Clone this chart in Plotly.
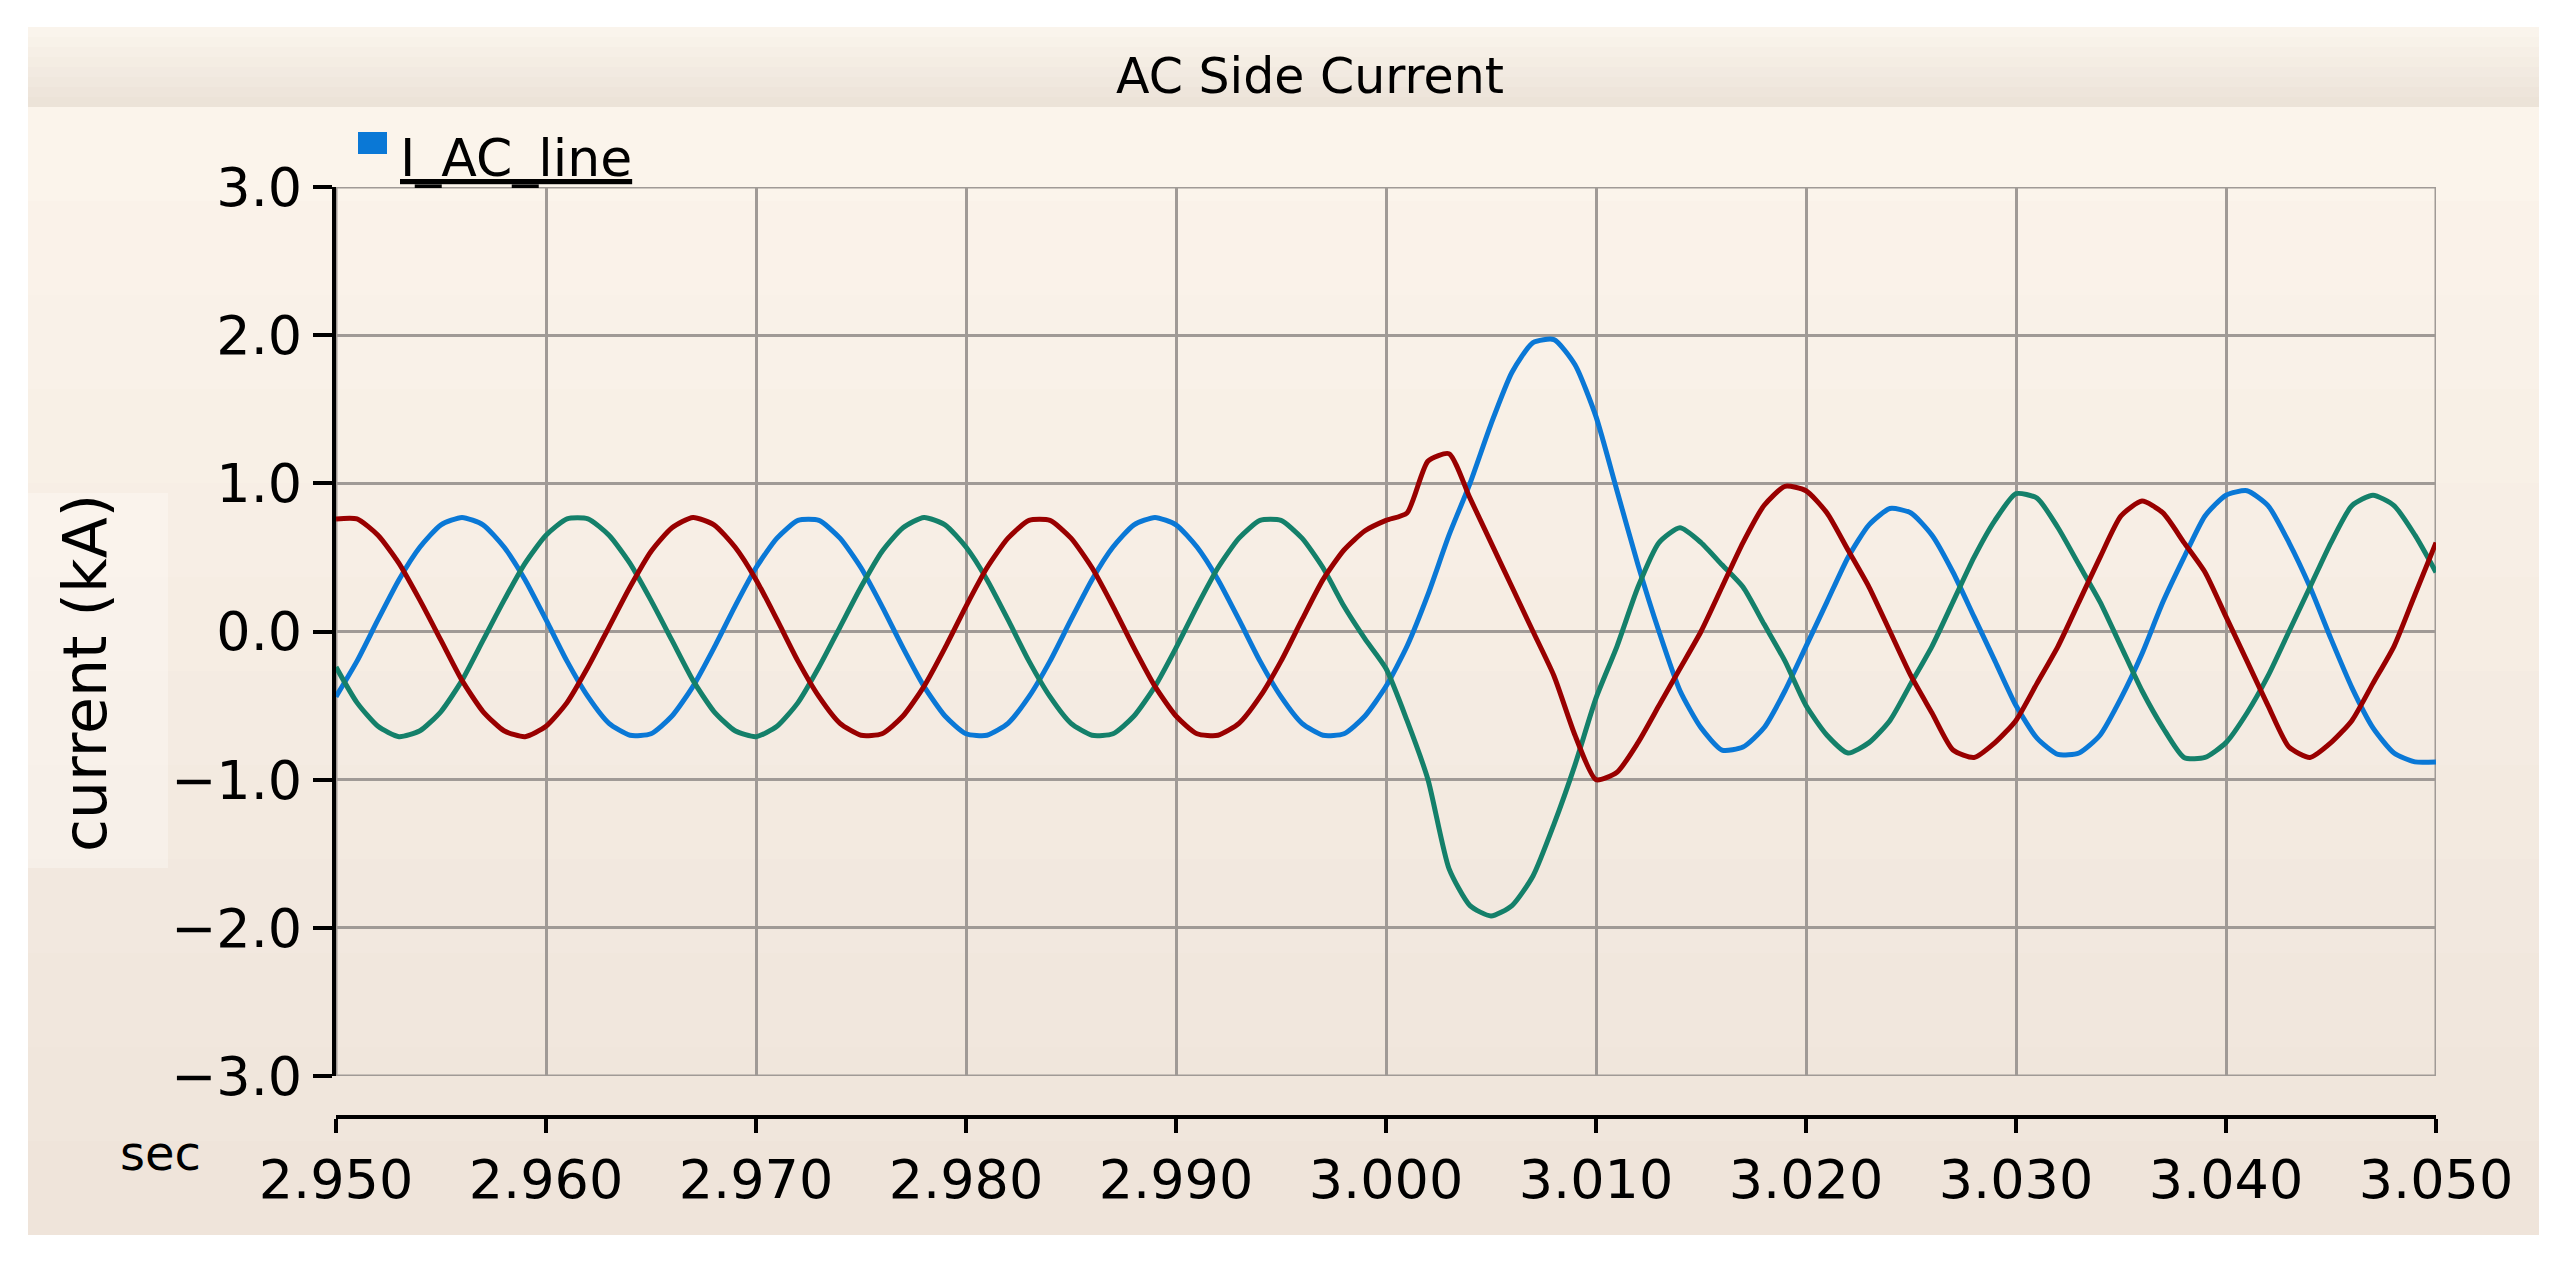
import numpy as np
import plotly.graph_objects as go

time_s = np.round(np.arange(101) * 0.001 + 2.950, 3)

phase_blue = [-.44,-.20,.08,.35,.57,.72,.77,.72,.57,.35,.08,-.20,-.44,-.62,-.70,-.69,-.57,-.37,-.11,.17,
              .43,.63,.75,.75,.63,.43,.17,-.11,-.37,-.57,-.69,-.70,-.62,-.44,-.20,.08,.35,.57,.72,.77,
              .72,.57,.35,.08,-.20,-.44,-.62,-.70,-.69,-.57,-.37,
              -.1,.25,.65,1.0,1.4,1.75,1.95,1.97,1.8,1.45,.95,.45,.0,-.4,-.65,-.8,-.78,-.65,-.4,-.1,
              .2,.5,.72,.83,.8,.65,.4,.1,-.2,-.5,-.72,-.83,-.82,-.7,-.45,-.15,.2,.5,.78,.92,
              .95,.85,.6,.3,-.05,-.38,-.65,-.82,-.88,-.88]
phase_green = [-.24,-.48,-.64,-.71,-.67,-.54,-.33,-.06,.21,.46,.65,.76,.76,.65,.46,.21,-.06,-.33,-.54,-.67,
               -.71,-.64,-.48,-.24,.03,.30,.54,.70,.77,.72,.57,.35,.08,-.20,-.44,-.62,-.70,-.69,-.57,-.37,
               -.11,.17,.43,.63,.75,.75,.63,.43,.17,-.05,-.25,
               -.6,-1.0,-1.6,-1.85,-1.92,-1.85,-1.65,-1.3,-.9,-.45,-.1,.3,.6,.7,.6,.45,.3,.05,-.2,-.5,
               -.7,-.82,-.75,-.6,-.35,-.1,.2,.5,.75,.93,.9,.7,.45,.2,-.1,-.4,-.65,-.85,-.85,-.75,
               -.55,-.3,0,.3,.6,.85,.92,.85,.65,.4]
phase_red = [.76,.76,.65,.46,.21,-.06,-.33,-.54,-.67,-.71,-.64,-.48,-.24,.03,.30,.54,.70,.77,.72,.57,
             .35,.08,-.20,-.44,-.62,-.70,-.69,-.57,-.37,-.11,.17,.43,.63,.75,.75,.63,.43,.17,-.11,-.37,
             -.57,-.69,-.70,-.62,-.44,-.20,.08,.35,.55,.68,.75,
             .8,1.15,1.2,.9,.6,.3,0,-.3,-.7,-1.0,-.95,-.75,-.5,-.25,0,.3,.6,.85,.98,.95,
             .8,.55,.3,0,-.3,-.55,-.8,-.85,-.75,-.6,-.35,-.1,.2,.5,.78,.88,.8,.6,.4,.1,
             -.2,-.5,-.78,-.85,-.75,-.6,-.35,-.1,.25,.6]

x_ticks = [2.950, 2.960, 2.970, 2.980, 2.990, 3.000, 3.010, 3.020, 3.030, 3.040, 3.050]
y_ticks = [-3.0, -2.0, -1.0, 0.0, 1.0, 2.0, 3.0]

W, H = 2561, 1263
L, R, T, B = 328, 133, 179, 154
PW, PH = W - L - R, H - T - B
def px(x): return (x - L) / PW
def py(y): return (H - B - y) / PH

FONT = "DejaVu Sans"
fig = go.Figure()
for vals, col in [(phase_blue, "#0a78d6"), (phase_green, "#14806a"), (phase_red, "#990000")]:
    fig.add_trace(go.Scatter(x=time_s, y=vals, mode="lines", line=dict(color=col, width=5, shape="spline", smoothing=0.6),
                             showlegend=False, hoverinfo="skip"))
fig.add_trace(go.Scatter(x=[x_ticks[0]], y=[0], xaxis="x2", mode="markers", marker=dict(opacity=0),
                         showlegend=False, hoverinfo="skip"))

shapes = []
top, bot = 19, 1227
n = 12
c0, c1 = np.array([252, 245, 236]), np.array([239, 228, 218])
for i in range(n):
    y0 = 99 + (bot - 99) * i / n
    y1 = 99 + (bot - 99) * (i + 1) / n
    c = c0 + (c1 - c0) * (i + 0.5) / n
    shapes.append(dict(type="rect", xref="paper", yref="paper", x0=px(20), x1=px(2531), y0=py(y0), y1=py(y1),
                       fillcolor="rgb(%d,%d,%d)" % tuple(c), line_width=0, layer="below"))
t0, t1 = np.array([252, 246, 238]), np.array([235, 226, 215])
for i in range(8):
    y0 = top + (99 - top) * i / 8
    y1 = top + (99 - top) * (i + 1) / 8
    c = t0 + (t1 - t0) * (i + 0.5) / 8
    shapes.append(dict(type="rect", xref="paper", yref="paper", x0=px(20), x1=px(2531), y0=py(y0), y1=py(y1),
                       fillcolor="rgb(%d,%d,%d)" % tuple(c), line_width=0, layer="below"))
shapes.append(dict(type="rect", xref="paper", yref="paper", x0=px(20), x1=px(160), y0=py(860), y1=py(485),
                   fillcolor="rgba(255,252,248,0.35)", line_width=0, layer="below"))
shapes.append(dict(type="rect", xref="x", yref="y", x0=2.950, x1=3.050, y0=-3, y1=3,
                   line=dict(color="#a09a96", width=3), layer="below"))
shapes.append(dict(type="rect", xref="paper", yref="paper", x0=px(350), x1=px(379), y0=py(146), y1=py(124),
                   fillcolor="#0a78d6", line_width=0))

annotations = [
    dict(text="AC Side Current", x=px(1302), y=py(38), xref="paper", yref="paper", showarrow=False,
         font=dict(family=FONT, size=49, color="black")),
    dict(text="<u>I_AC_line</u>", x=px(390), y=py(118), xref="paper", yref="paper", xanchor="left", showarrow=False,
         font=dict(family=FONT, size=52, color="black")),
    dict(text="current (kA)", x=px(40), y=py(665), xref="paper", yref="paper", textangle=-90, showarrow=False,
         font=dict(family=FONT, size=60, color="black")),
    dict(text="sec", x=px(110), y=py(1175), xref="paper", yref="paper", showarrow=False,
         font=dict(family=FONT, size=48, color="black")),
]

ydom0 = (1109 - 1068) / PH
fig.update_layout(
    width=W, height=H, margin=dict(l=L, r=R, t=T, b=B),
    paper_bgcolor="white", plot_bgcolor="white",
    shapes=shapes, annotations=annotations, showlegend=False,
    xaxis=dict(range=[2.950, 3.050], tickvals=x_ticks, showticklabels=False, showgrid=True,
               gridcolor="#a09a96", gridwidth=3, zeroline=False, showline=False, ticks=""),
    xaxis2=dict(range=[2.950, 3.050], overlaying="x", anchor="free", position=0, side="bottom",
                tickvals=x_ticks, tickformat=".3f", showline=True, linecolor="black", linewidth=4,
                ticks="outside", ticklen=14, tickwidth=4, tickcolor="black", showgrid=False, zeroline=False,
                tickfont=dict(family=FONT, size=54, color="black")),
    yaxis=dict(range=[-3, 3], domain=[ydom0, 1], tickvals=y_ticks, tickformat=".1f",
               showline=True, linecolor="black", linewidth=4, ticks="outside", ticklen=19, tickwidth=4,
               tickcolor="black", showgrid=True, gridcolor="#a09a96", gridwidth=3, zeroline=False,
               tickfont=dict(family=FONT, size=54, color="black")),
)
fig.write_html("out.html")
